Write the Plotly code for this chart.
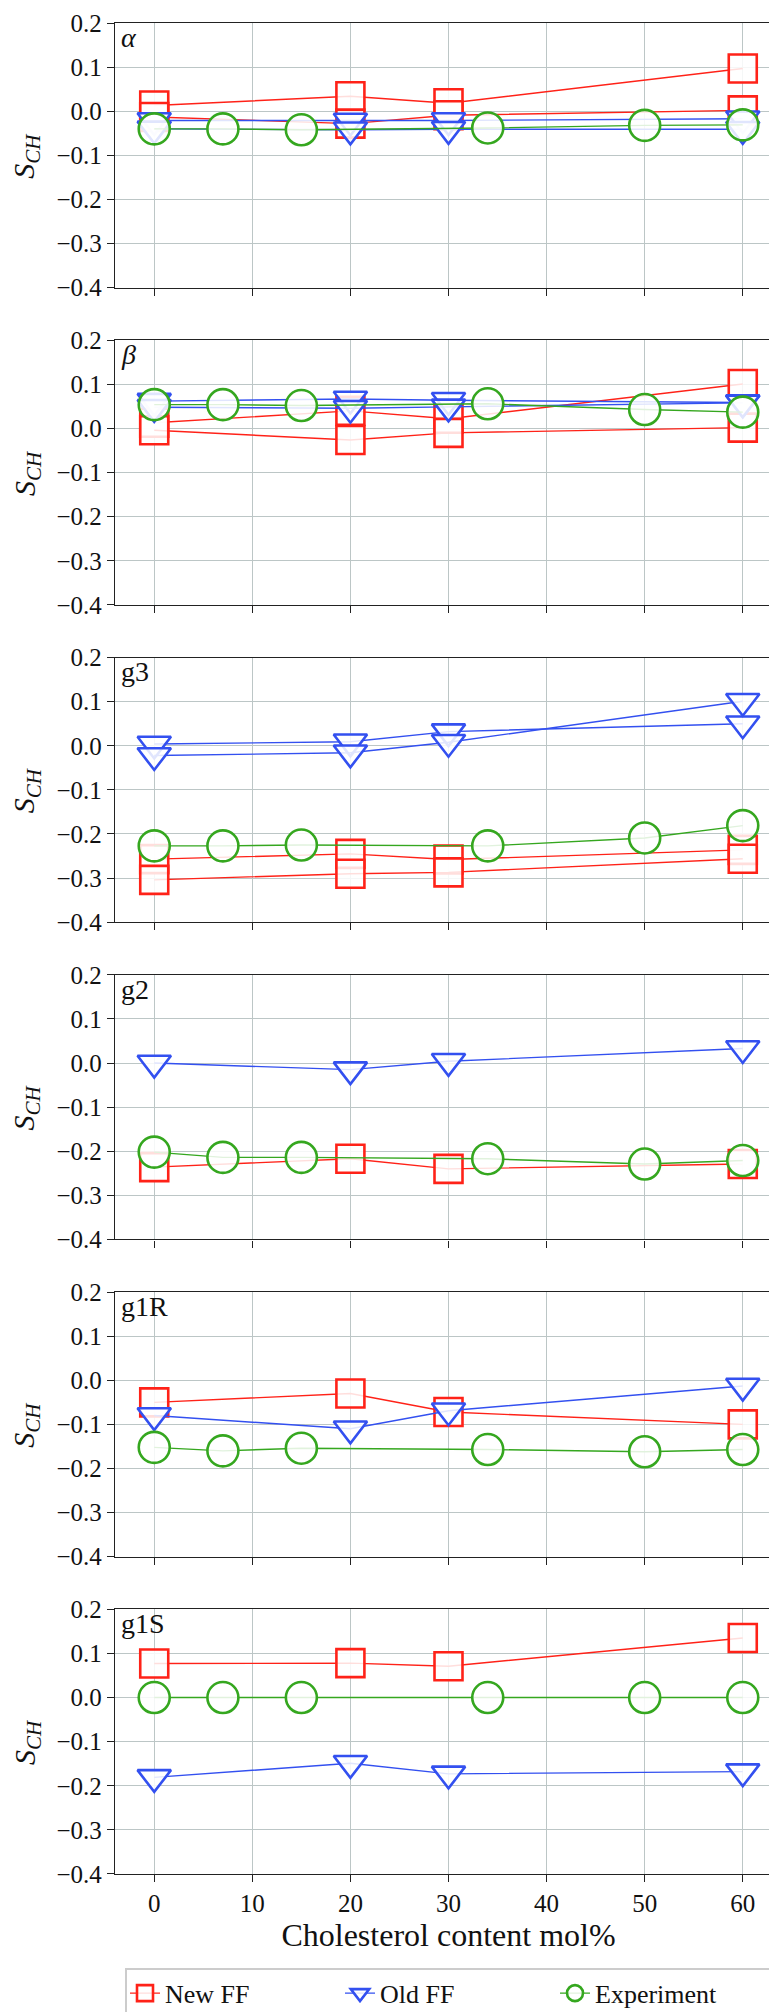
import plotly.graph_objects as go
from plotly.subplots import make_subplots

# cholesterol content (mol%) for simulations and experiment
x_sim = [0, 20, 30, 60]
x_exp = [0, 7, 15, 34, 50, 60]

panel_names = ["<i>α</i>", "<i>β</i>", "g3", "g2", "g1R", "g1S"]

# New FF (one list per C-H bond)
alpha_new = [[0.013, 0.034, 0.018, 0.097], [-0.013, -0.028, -0.009, 0.002]]
beta_new = [[0.013, 0.040, 0.022, 0.101], [-0.004, -0.026, -0.010, 0.002]]
g3_new = [[-0.257, -0.245, -0.258, -0.236], [-0.304, -0.290, -0.287, -0.256]]
g2_new = [[-0.236, -0.217, -0.240, -0.229]]
g1r_new = [[-0.050, -0.030, -0.072, -0.100]]
g1s_new = [[0.077, 0.078, 0.071, 0.135]]

# Old FF
alpha_old = [[-0.021, -0.022, -0.021, -0.017], [-0.040, -0.042, -0.041, -0.041]]
beta_old = [[0.062, 0.067, 0.064, 0.059], [0.048, 0.046, 0.049, 0.058]]
g3_old = [[0.004, 0.009, 0.032, 0.050], [-0.022, -0.016, 0.008, 0.101]]
g2_old = [[0.0, -0.015, 0.004, 0.033]]
g1r_old = [[-0.080, -0.110, -0.069, -0.013]]
g1s_old = [[-0.181, -0.149, -0.173, -0.168]]

# Experiment
alpha_exp = [-0.040, -0.040, -0.042, -0.038, -0.032, -0.031]
beta_exp = [0.054, 0.054, 0.052, 0.056, 0.043, 0.037]
g3_exp = [-0.227, -0.227, -0.225, -0.227, -0.209, -0.181]
g2_exp = [-0.202, -0.214, -0.214, -0.217, -0.229, -0.221]
g1r_exp = [-0.152, -0.160, -0.154, -0.157, -0.162, -0.157]
g1s_exp = [0.0, 0.0, 0.0, 0.0, 0.0, 0.0]

new_all = [alpha_new, beta_new, g3_new, g2_new, g1r_new, g1s_new]
old_all = [alpha_old, beta_old, g3_old, g2_old, g1r_old, g1s_old]
exp_all = [alpha_exp, beta_exp, g3_exp, g2_exp, g1r_exp, g1s_exp]

RED = "#ff2218"
BLUE = "#3350f0"
GREEN = "#35a71f"
FILL = "rgba(255,255,255,0.85)"
FONT = "Liberation Serif, DejaVu Serif, serif"

fig = make_subplots(rows=6, cols=1, vertical_spacing=0.0284)

for i in range(6):
    row = i + 1
    for k, ys in enumerate(new_all[i]):
        fig.add_trace(go.Scatter(
            x=x_sim, y=ys, mode="lines+markers", name="New FF",
            legendgroup="new", showlegend=(i == 0 and k == 0),
            line=dict(color=RED, width=1.4),
            marker=dict(symbol="square", size=28, color=FILL,
                        line=dict(color=RED, width=2.6))), row=row, col=1)
    for k, ys in enumerate(old_all[i]):
        fig.add_trace(go.Scatter(
            x=x_sim, y=ys, mode="lines+markers", name="Old FF",
            legendgroup="old", showlegend=(i == 0 and k == 0),
            line=dict(color=BLUE, width=1.4),
            marker=dict(symbol="triangle-down", size=29, color=FILL,
                        line=dict(color=BLUE, width=2.6))), row=row, col=1)
    fig.add_trace(go.Scatter(
        x=x_exp, y=exp_all[i], mode="lines+markers", name="Experiment",
        legendgroup="exp", showlegend=(i == 0),
        line=dict(color=GREEN, width=1.4),
        marker=dict(symbol="circle", size=31, color=FILL,
                    line=dict(color=GREEN, width=2.6))), row=row, col=1)

    # panel label and y title
    suffix = str(row) if row > 1 else ""
    fig.add_annotation(text=panel_names[i], xref=f"x{suffix} domain",
                       yref=f"y{suffix} domain", x=0.006, y=1.012,
                       xanchor="left", yanchor="top", showarrow=False,
                       font=dict(family=FONT, size=28, color="#111"))
    fig.add_annotation(text="<i>S</i><sub><i>CH</i></sub>", xref="paper",
                       yref=f"y{suffix} domain", x=-0.133, y=0.5,
                       xanchor="center", yanchor="middle", textangle=-90,
                       showarrow=False, font=dict(family=FONT, size=30, color="#111"))

fig.update_xaxes(range=[-4, 64], dtick=10, tick0=0, showgrid=True,
                 gridcolor="#bcc6c6", gridwidth=1.3, zeroline=False,
                 showline=True, mirror=True, linecolor="#222", linewidth=1.3,
                 ticks="outside", ticklen=7, tickwidth=1.3, tickcolor="#222",
                 showticklabels=False,
                 tickfont=dict(family=FONT, size=25, color="#111"))
fig.update_yaxes(range=[-0.4, 0.2], dtick=0.1, tick0=0, tickformat=".1f",
                 showgrid=True, gridcolor="#bcc6c6", gridwidth=1.3,
                 zeroline=False, showline=True, mirror=True, linecolor="#222",
                 linewidth=1.3, ticks="outside", ticklen=7, tickwidth=1.3,
                 tickcolor="#222", tickfont=dict(family=FONT, size=25, color="#111"))
fig.update_xaxes(showticklabels=True, row=6, col=1,
                 title=dict(text="Cholesterol content mol%", standoff=4,
                            font=dict(family=FONT, size=32, color="#111")))

fig.update_layout(
    width=777, height=2012,
    margin=dict(l=107, r=2, t=7, b=140),
    plot_bgcolor="white", paper_bgcolor="white",
    font=dict(family=FONT, color="#111"),
    legend=dict(orientation="h", x=0.5, xanchor="center", y=-0.0509,
                yanchor="top", bordercolor="#cccccc", borderwidth=1.5,
                font=dict(family=FONT, size=26), itemsizing="trace",
                entrywidth=170, entrywidthmode="pixels"),
)

fig.write_html("out.html")
